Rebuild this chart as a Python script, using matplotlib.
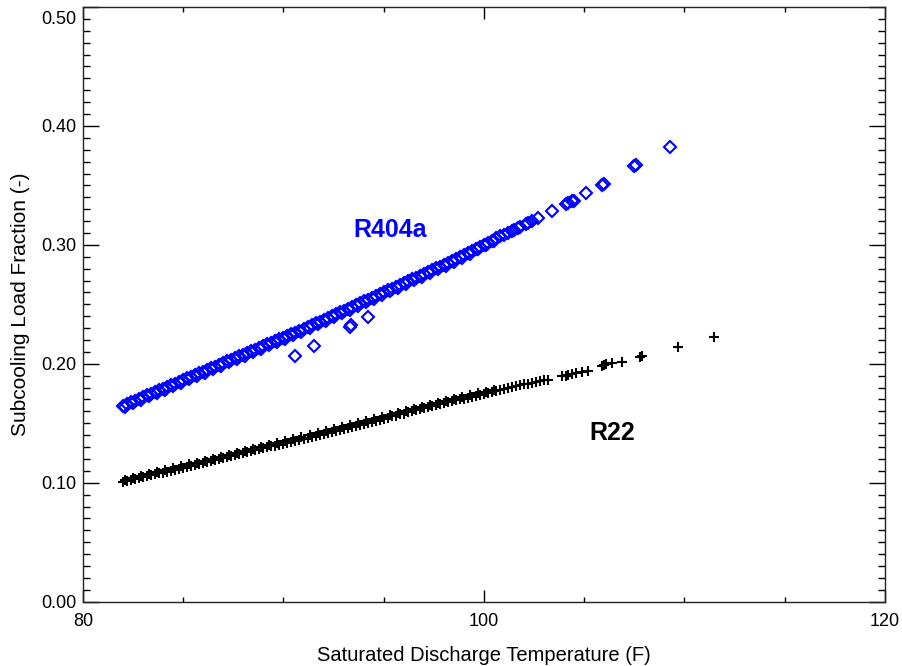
import matplotlib
matplotlib.use('Agg')
import matplotlib.pyplot as plt
from matplotlib.ticker import MultipleLocator, FuncFormatter

# R404a (blue diamonds)
r404a_temp = [82.0, 82.2, 82.4, 82.6, 82.8, 83.0, 83.2, 83.4, 83.6, 83.8,
              84.0, 84.2, 84.4, 84.6, 84.8, 85.0, 85.2, 85.4, 85.6, 85.8,
              86.0, 86.2, 86.4, 86.6, 86.8, 87.0, 87.2, 87.4, 87.6, 87.8,
              88.0, 88.2, 88.4, 88.6, 88.8, 89.0, 89.2, 89.4, 89.6, 89.8,
              90.0, 90.2, 90.4, 90.6, 90.8, 91.0, 91.2, 91.4, 91.6, 91.8,
              92.0, 92.2, 92.4, 92.6, 92.8, 93.0, 93.2, 93.4, 93.6, 93.8,
              94.0, 94.2, 94.4, 94.6, 94.8, 95.0, 95.2, 95.4, 95.6, 95.8,
              96.0, 96.2, 96.4, 96.6, 96.8, 97.0, 97.2, 97.4, 97.6, 97.8,
              98.0, 98.2, 98.4, 98.6, 98.8, 99.0, 99.2, 99.4, 99.6, 99.8,
              100.0, 100.2, 100.4, 100.6, 100.8,
              101.0, 101.2, 101.4, 101.5, 101.7, 101.8, 102.1, 102.2, 102.4, 102.7,
              103.4, 104.1, 104.2, 104.4, 104.5, 105.1, 105.9, 106.0, 107.5, 107.6, 109.3,
              90.6, 91.5, 93.3, 93.35, 94.2]
r404a_frac = [0.1648, 0.1662, 0.1677, 0.1691, 0.1705, 0.1720, 0.1734, 0.1748, 0.1762, 0.1777,
              0.1791, 0.1805, 0.1820, 0.1834, 0.1848, 0.1863, 0.1877, 0.1891, 0.1905, 0.1920,
              0.1934, 0.1948, 0.1963, 0.1977, 0.1991, 0.2006, 0.2020, 0.2034, 0.2049, 0.2063,
              0.2077, 0.2092, 0.2106, 0.2120, 0.2134, 0.2149, 0.2163, 0.2177, 0.2192, 0.2206,
              0.2220, 0.2235, 0.2249, 0.2263, 0.2278, 0.2293, 0.2309, 0.2324, 0.2340, 0.2355,
              0.2370, 0.2386, 0.2401, 0.2417, 0.2432, 0.2448, 0.2463, 0.2478, 0.2494, 0.2509,
              0.2525, 0.2540, 0.2555, 0.2571, 0.2586, 0.2602, 0.2617, 0.2632, 0.2648, 0.2663,
              0.2679, 0.2694, 0.2710, 0.2725, 0.2740, 0.2756, 0.2771, 0.2787, 0.2802, 0.2817,
              0.2833, 0.2848, 0.2864, 0.2880, 0.2897, 0.2915, 0.2932, 0.2950, 0.2967, 0.2984,
              0.3002, 0.3019, 0.3036, 0.3054, 0.3071,
              0.3085, 0.3100, 0.3115, 0.3125, 0.3142, 0.3150, 0.3175, 0.3185, 0.3200, 0.3225,
              0.3285, 0.3345, 0.3350, 0.3365, 0.3370, 0.3440, 0.3505, 0.3515, 0.3665, 0.3675, 0.3820,
              0.2067, 0.2150, 0.2310, 0.2330, 0.2395]

# second set of R404a runs, slightly below the first
r404a_temp_b = [82.1, 82.5, 82.9, 83.3, 83.7, 84.1, 84.5, 84.9, 85.3, 85.7,
                86.1, 86.5, 86.9, 87.3, 87.7, 88.1, 88.5, 88.9, 89.3, 89.7,
                90.1, 90.5, 90.9, 91.3, 91.7, 92.1, 92.5, 92.9, 93.3, 93.7,
                94.1, 94.5, 94.9, 95.3, 95.7, 96.1, 96.5, 96.9, 97.3, 97.7,
                98.1, 98.5, 98.9, 99.3, 99.7, 100.1, 100.5]
r404a_frac_b = [0.1640, 0.1669, 0.1698, 0.1726, 0.1755, 0.1783, 0.1812, 0.1841, 0.1869, 0.1898,
                0.1926, 0.1955, 0.1984, 0.2012, 0.2041, 0.2069, 0.2098, 0.2127, 0.2155, 0.2184,
                0.2212, 0.2241, 0.2270, 0.2301, 0.2332, 0.2363, 0.2394, 0.2425, 0.2456, 0.2487,
                0.2517, 0.2548, 0.2579, 0.2610, 0.2641, 0.2672, 0.2702, 0.2733, 0.2764, 0.2795,
                0.2826, 0.2857, 0.2891, 0.2926, 0.2961, 0.2995, 0.3030]

# R22 (black plus)
r22_temp = [82.0, 82.2, 82.4, 82.6, 82.8, 83.0, 83.2, 83.4, 83.6, 83.8,
            84.0, 84.2, 84.4, 84.6, 84.8, 85.0, 85.2, 85.4, 85.6, 85.8,
            86.0, 86.2, 86.4, 86.6, 86.8, 87.0, 87.2, 87.4, 87.6, 87.8,
            88.0, 88.2, 88.4, 88.6, 88.8, 89.0, 89.2, 89.4, 89.6, 89.8,
            90.0, 90.2, 90.4, 90.6, 90.8, 91.0, 91.2, 91.4, 91.6, 91.8,
            92.0, 92.2, 92.4, 92.6, 92.8, 93.0, 93.2, 93.4, 93.6, 93.8,
            94.0, 94.2, 94.4, 94.6, 94.8, 95.0, 95.2, 95.4, 95.6, 95.8,
            96.0, 96.2, 96.4, 96.6, 96.8, 97.0, 97.2, 97.4, 97.6, 97.8,
            98.0, 98.2, 98.4, 98.6, 98.8, 99.0, 99.2, 99.4, 99.6, 99.8,
            100.0, 100.2, 100.4, 100.6, 100.8, 101.0, 101.2, 101.4, 101.6, 101.8,
            102.0, 102.2, 102.4, 102.6, 102.8, 103.0, 103.2,
            103.9, 104.1, 104.2, 104.4, 104.6, 104.9, 105.2, 105.9, 106.0, 106.1,
            106.4, 106.9, 107.8, 107.9, 109.7, 111.5]
r22_frac = [0.1005, 0.1013, 0.1021, 0.1029, 0.1037, 0.1045, 0.1053, 0.1062, 0.1070, 0.1078,
            0.1086, 0.1094, 0.1102, 0.1110, 0.1118, 0.1127, 0.1135, 0.1143, 0.1151, 0.1159,
            0.1167, 0.1175, 0.1183, 0.1192, 0.1200, 0.1208, 0.1216, 0.1224, 0.1232, 0.1240,
            0.1248, 0.1257, 0.1265, 0.1273, 0.1281, 0.1289, 0.1297, 0.1305, 0.1313, 0.1321,
            0.1329, 0.1337, 0.1345, 0.1353, 0.1361, 0.1370, 0.1378, 0.1387, 0.1395, 0.1404,
            0.1412, 0.1421, 0.1429, 0.1438, 0.1446, 0.1455, 0.1463, 0.1472, 0.1480, 0.1489,
            0.1497, 0.1506, 0.1514, 0.1523, 0.1531, 0.1540, 0.1548, 0.1557, 0.1565, 0.1574,
            0.1582, 0.1591, 0.1599, 0.1608, 0.1616, 0.1625, 0.1633, 0.1642, 0.1650, 0.1659,
            0.1667, 0.1676, 0.1684, 0.1692, 0.1700, 0.1708, 0.1716, 0.1724, 0.1732, 0.1740,
            0.1748, 0.1756, 0.1764, 0.1772, 0.1780, 0.1788, 0.1795, 0.1803, 0.1810, 0.1818,
            0.1826, 0.1834, 0.1841, 0.1848, 0.1855, 0.1861, 0.1866,
            0.1895, 0.1900, 0.1905, 0.1912, 0.1920, 0.1930, 0.1940, 0.1985, 0.1990, 0.1995,
            0.2005, 0.2016, 0.2060, 0.2068, 0.2142, 0.2226]

# second set of R22 runs, slightly above the first
r22_temp_b = [82.1, 82.5, 82.9, 83.3, 83.7, 84.1, 84.5, 84.9, 85.3, 85.7,
              86.1, 86.5, 86.9, 87.3, 87.7, 88.1, 88.5, 88.9, 89.3, 89.7,
              90.1, 90.5, 90.9, 91.3, 91.7, 92.1, 92.5, 92.9, 93.3, 93.7,
              94.1, 94.5, 94.9, 95.3, 95.7, 96.1, 96.5, 96.9, 97.3, 97.7,
              98.1, 98.5, 98.9, 99.3, 99.7, 100.1, 100.5]
r22_frac_b = [0.1024, 0.1040, 0.1056, 0.1073, 0.1089, 0.1105, 0.1121, 0.1138, 0.1154, 0.1170,
              0.1186, 0.1203, 0.1219, 0.1235, 0.1251, 0.1268, 0.1284, 0.1300, 0.1316, 0.1332,
              0.1348, 0.1364, 0.1381, 0.1398, 0.1415, 0.1432, 0.1449, 0.1466, 0.1483, 0.1500,
              0.1517, 0.1534, 0.1551, 0.1568, 0.1585, 0.1602, 0.1619, 0.1636, 0.1653, 0.1670,
              0.1687, 0.1703, 0.1719, 0.1735, 0.1751, 0.1767, 0.1783]

plt.rcParams['font.family'] = ['Liberation Sans', 'DejaVu Sans']

fig = plt.figure(figsize=(9.02, 6.66), dpi=100)
ax = fig.add_axes([0.092, 0.0966, 0.889, 0.8929])

diamond = dict(linestyle='none', marker='D', markersize=6, markerfacecolor='none',
               markeredgecolor='#0000ff', markeredgewidth=1.5)
plus = dict(linestyle='none', marker='+', markersize=7, color='black', markeredgewidth=1.5)
ax.plot(r404a_temp, r404a_frac, **diamond)
ax.plot(r404a_temp_b, r404a_frac_b, **diamond)
ax.plot(r22_temp, r22_frac, **plus)
ax.plot(r22_temp_b, r22_frac_b, **plus)

ax.text(95.3, 0.3126, 'R404a', color='#0000ff', fontsize=18, fontweight='bold',
        ha='center', va='center')
ax.text(106.4, 0.142, 'R22', color='black', fontsize=18, fontweight='bold',
        ha='center', va='center')

ax.set_xlim(80, 120)
ax.set_ylim(0, 0.5)
ax.xaxis.set_major_locator(MultipleLocator(20))
ax.xaxis.set_minor_locator(MultipleLocator(5))
ax.yaxis.set_major_locator(MultipleLocator(0.1))
ax.yaxis.set_minor_locator(MultipleLocator(0.01))
# top label is drawn separately, pushed down like IDL does
ax.yaxis.set_major_formatter(FuncFormatter(lambda v, p: '' if v > 0.49 else f'{v:.2f}'))

ax.tick_params(which='both', direction='in', top=True, right=True,
               labelsize=13, color='black', width=1)
ax.tick_params(axis='x', which='major', length=8.6, pad=8)
ax.tick_params(axis='x', which='minor', length=3.6)
ax.tick_params(axis='y', which='major', length=11.5, pad=5)
ax.tick_params(axis='y', which='minor', length=5)

ax.annotate('0.50', xy=(0, 0.5), xycoords=('axes fraction', 'data'),
            xytext=(-5, -9), textcoords='offset points', ha='right', va='center',
            fontsize=13)

for s in ax.spines.values():
    s.set_linewidth(1)
    s.set_color('#222222')

ax.set_xlabel('Saturated Discharge Temperature (F)', fontsize=14.5, labelpad=12)
ax.set_ylabel('Subcooling Load Fraction (-)', fontsize=15, labelpad=8)

fig.savefig('out.png', dpi=100)
